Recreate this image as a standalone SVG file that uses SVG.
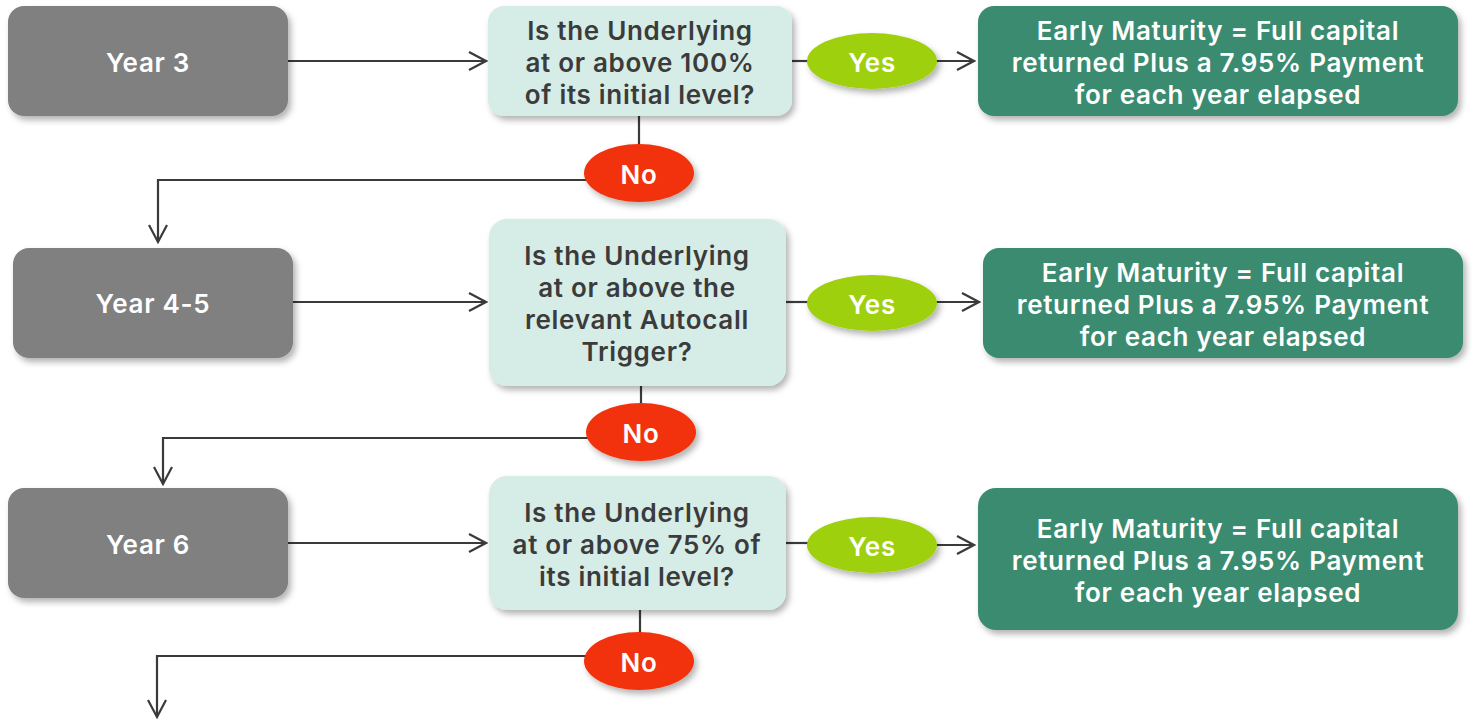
<svg xmlns="http://www.w3.org/2000/svg" width="1477" height="720" viewBox="0 0 1477 720">
<defs>
<filter id="sh" x="-10%" y="-20%" width="125%" height="150%">
<feDropShadow dx="3" dy="4" stdDeviation="3" flood-color="#000" flood-opacity="0.3"/>
</filter>
<marker id="ah" markerWidth="20" markerHeight="22" refX="18" refY="10" orient="auto" markerUnits="userSpaceOnUse">
<path d="M1,1 L18,10 L1,19" fill="none" stroke="#3a3a3a" stroke-width="2.2"/>
</marker>
<style>
.yr{fill:#808080;filter:url(#sh)}
.q{fill:#d6ece6;filter:url(#sh)}
.res{fill:#3a8b71;filter:url(#sh)}
.yes{fill:#9fd00f;filter:url(#sh)}
.no{fill:#f2310b;filter:url(#sh)}
text{font-family:Inter,"Open Sans","Liberation Sans",sans-serif;font-weight:600;font-size:26px;letter-spacing:0.7px;text-anchor:middle;dominant-baseline:central}
.w{fill:#fff}
.d{fill:#3b3b3b}
.c{fill:none;stroke:#3a3a3a;stroke-width:2.2}
</style>
</defs>
<g id="connectors">
<path class="c" d="M288,61 H486" marker-end="url(#ah)"/>
<path class="c" d="M792,61 H810"/>
<path class="c" d="M935,61 H974" marker-end="url(#ah)"/>
<path class="c" d="M639,116 V146"/>
<path class="c" d="M586,180 H158 V242" marker-end="url(#ah)"/>
<path class="c" d="M293,302 H486" marker-end="url(#ah)"/>
<path class="c" d="M786,302 H810"/>
<path class="c" d="M935,302 H979" marker-end="url(#ah)"/>
<path class="c" d="M641,386 V404"/>
<path class="c" d="M588,438 H163 V484" marker-end="url(#ah)"/>
<path class="c" d="M288,543 H486" marker-end="url(#ah)"/>
<path class="c" d="M786,543 H810"/>
<path class="c" d="M935,545 H974" marker-end="url(#ah)"/>
<path class="c" d="M640,610 V633"/>
<path class="c" d="M586,656 H157 V717" marker-end="url(#ah)"/>
</g>
<g id="year3"><rect class="yr" x="8" y="6" width="280" height="110" rx="16"/><text class="w" x="148" y="62">Year 3</text></g>
<g id="q1"><rect class="q" x="488" y="6" width="304" height="110" rx="16"/>
<text class="d" x="640" y="30">Is the Underlying</text><text class="d" x="640" y="62">at or above 100%</text><text class="d" x="640" y="94">of its initial level?</text></g>
<g id="yes1"><ellipse class="yes" cx="872" cy="61" rx="65" ry="28"/><text class="w" x="872" y="62">Yes</text></g>
<g id="res1"><rect class="res" x="978" y="6" width="480" height="110" rx="16"/>
<text class="w" x="1218" y="30">Early Maturity = Full capital</text><text class="w" x="1218" y="62">returned Plus a 7.95% Payment</text><text class="w" x="1218" y="94">for each year elapsed</text></g>
<g id="no1"><ellipse class="no" cx="639" cy="173" rx="55" ry="29"/><text class="w" x="639" y="174">No</text></g>

<g id="year45"><rect class="yr" x="13" y="248" width="280" height="110" rx="16"/><text class="w" x="153" y="303">Year 4-5</text></g>
<g id="q2"><rect class="q" x="489" y="219" width="297" height="167" rx="18"/>
<text class="d" x="637" y="255">Is the Underlying</text><text class="d" x="637" y="287">at or above the</text><text class="d" x="637" y="319">relevant Autocall</text><text class="d" x="637" y="351">Trigger?</text></g>
<g id="yes2"><ellipse class="yes" cx="872" cy="303" rx="65" ry="28"/><text class="w" x="872" y="304">Yes</text></g>
<g id="res2"><rect class="res" x="983" y="248" width="480" height="110" rx="16"/>
<text class="w" x="1223" y="272">Early Maturity = Full capital</text><text class="w" x="1223" y="304">returned Plus a 7.95% Payment</text><text class="w" x="1223" y="336">for each year elapsed</text></g>
<g id="no2"><ellipse class="no" cx="641" cy="432" rx="55" ry="29"/><text class="w" x="641" y="433">No</text></g>

<g id="year6"><rect class="yr" x="8" y="488" width="280" height="110" rx="16"/><text class="w" x="148" y="544">Year 6</text></g>
<g id="q3"><rect class="q" x="489" y="476" width="297" height="134" rx="18"/>
<text class="d" x="637" y="512">Is the Underlying</text><text class="d" x="637" y="544">at or above 75% of</text><text class="d" x="637" y="576">its initial level?</text></g>
<g id="yes3"><ellipse class="yes" cx="872" cy="545" rx="65" ry="28"/><text class="w" x="872" y="546">Yes</text></g>
<g id="res3"><rect class="res" x="978" y="488" width="480" height="142" rx="18"/>
<text class="w" x="1218" y="528">Early Maturity = Full capital</text><text class="w" x="1218" y="560">returned Plus a 7.95% Payment</text><text class="w" x="1218" y="592">for each year elapsed</text></g>
<g id="no3"><ellipse class="no" cx="639" cy="661" rx="55" ry="29"/><text class="w" x="639" y="662">No</text></g>
</svg>
